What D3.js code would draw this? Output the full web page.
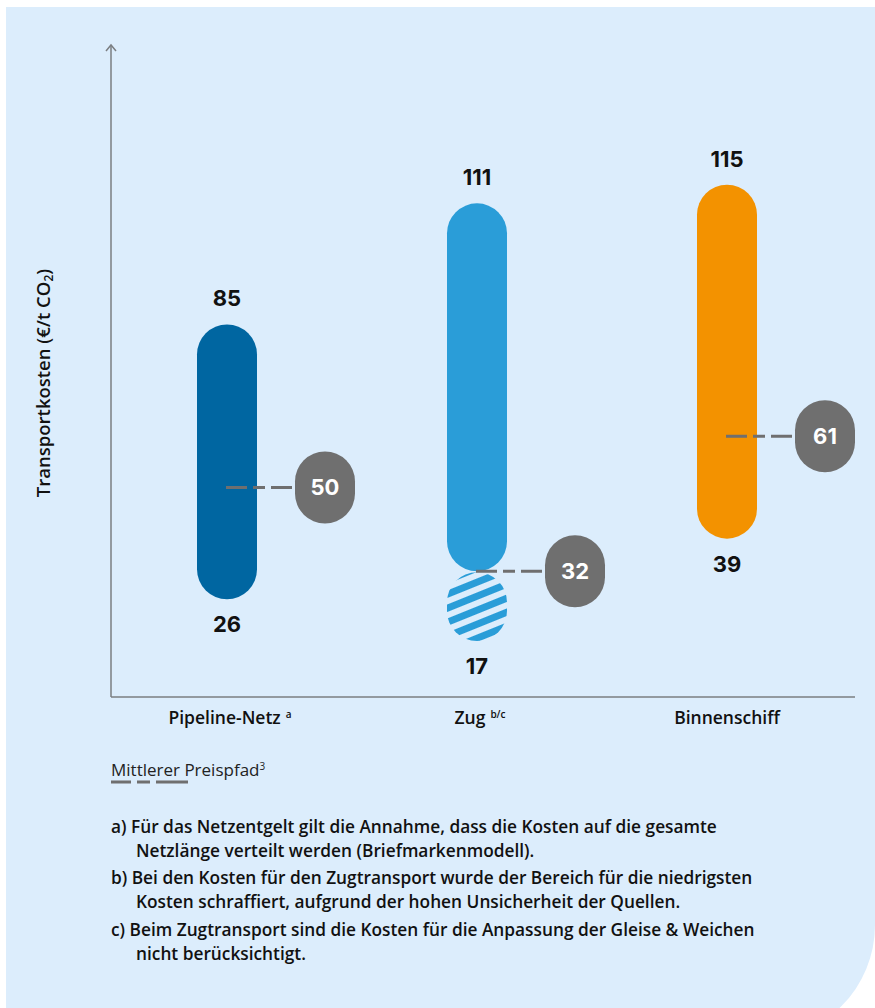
<!DOCTYPE html>
<html>
<head>
<meta charset="utf-8">
<script src="https://cdn.jsdelivr.net/npm/d3@7"></script>
<style>
  html, body { margin: 0; padding: 0; background: #ffffff; }
  svg { display: block; }
</style>
</head>
<body>
<svg id="chart" width="875" height="1008"></svg>
<script>
// ---- data ----
const categories = ["Pipeline-Netz", "Zug", "Binnenschiff"];
const categoryNotes = ["a", "b/c", ""];
const lowValues = [26, 32, 39];
const highValues = [85, 111, 115];
const hatchedLowValues = [null, 17, null];
const medianValues = [50, 32, 61];
const barColors = ["#0066a1", "#2a9dd8", "#f39200"];
const yAxisTitle = "Transportkosten (€/t CO";
const legendLabel = "Mittlerer Preispfad";
const footnotes = [
  ["a)", "Für das Netzentgelt gilt die Annahme, dass die Kosten auf die gesamte", "Netzlänge verteilt werden (Briefmarkenmodell)."],
  ["b)", "Bei den Kosten für den Zugtransport wurde der Bereich für die niedrigsten", "Kosten schraffiert, aufgrund der hohen Unsicherheit der Quellen."],
  ["c)", "Beim Zugtransport sind die Kosten für die Anpassung der Gleise & Weichen", "nicht berücksichtigt."]
];

// ---- layout ----
const svg = d3.select("#chart");
const bg = "#dcedfc";
const grey = "#6f6f6f";
const axisGrey = "#7b7e82";
const numFont = "Inter, 'Open Sans', sans-serif";
const txtFont = "'Open Sans', Roboto, sans-serif";

// panel with rounded bottom-right corner
svg.append("path")
  .attr("d", "M6,7 H875 V925 A115,115 0 0 1 760,1040 H6 Z")
  .attr("fill", bg);

const defs = svg.append("defs");
const pat = defs.append("pattern")
  .attr("id", "hatch")
  .attr("patternUnits", "userSpaceOnUse")
  .attr("width", 13).attr("height", 13)
  .attr("patternTransform", "rotate(-22)");
pat.append("rect").attr("x", 0).attr("y", 0).attr("width", 13).attr("height", 13).attr("fill", bg);
pat.append("rect").attr("x", 0).attr("y", 0).attr("width", 13).attr("height", 7).attr("fill", barColors[1]);

const axisX = 111, axisBottom = 697, axisTop = 45;
const y = d3.scaleLinear().domain([5, 145]).range([axisBottom, axisTop]);
const x = d3.scaleBand().domain(categories).range([102, 852]).paddingInner(0).paddingOuter(0);
const barW = 60;
const cx = c => x(c) + x.bandwidth() / 2;

// axes
svg.append("line").attr("x1", axisX).attr("x2", axisX).attr("y1", y(5)).attr("y2", y(145))
  .attr("stroke", axisGrey).attr("stroke-width", 1.5);
svg.append("path").attr("d", `M${axisX - 5},${axisTop + 6} L${axisX},${axisTop} L${axisX + 5},${axisTop + 6}`)
  .attr("fill", "none").attr("stroke", axisGrey).attr("stroke-width", 1.5);
svg.append("line").attr("x1", axisX).attr("x2", 855).attr("y1", y(5)).attr("y2", y(5))
  .attr("stroke", axisGrey).attr("stroke-width", 1.5);

// y title
const yt = svg.append("text")
  .attr("transform", `translate(50,${383}) rotate(-90)`)
  .attr("text-anchor", "middle")
  .attr("font-family", txtFont).attr("font-weight", 600).attr("font-size", 18.5).attr("fill", "#111");
yt.append("tspan").text(yAxisTitle);
yt.append("tspan").attr("font-size", 12).attr("dy", 3).text("2");
yt.append("tspan").attr("dy", -3).text(")");

// bars
categories.forEach((c, i) => {
  const g = svg.append("g");
  if (hatchedLowValues[i] != null) {
    g.append("rect")
      .attr("x", cx(c) - barW / 2).attr("width", barW)
      .attr("y", y(lowValues[i]) + 1).attr("height", y(hatchedLowValues[i]) - y(lowValues[i]) - 1)
      .attr("rx", barW / 2).attr("ry", barW / 2)
      .attr("fill", "url(#hatch)");
  }
  g.append("rect")
    .attr("x", cx(c) - barW / 2).attr("width", barW)
    .attr("y", y(highValues[i])).attr("height", y(lowValues[i]) - y(highValues[i]))
    .attr("rx", barW / 2).attr("ry", barW / 2)
    .attr("fill", barColors[i]);

  // top label
  g.append("text").attr("x", cx(c)).attr("y", y(highValues[i]) - 18)
    .attr("text-anchor", "middle").attr("font-family", numFont).attr("font-weight", 700)
    .attr("font-size", 22).attr("fill", "#111").text(highValues[i]);
  // bottom label
  const bottomVal = hatchedLowValues[i] != null ? hatchedLowValues[i] : lowValues[i];
  g.append("text").attr("x", cx(c)).attr("y", y(bottomVal) + 33)
    .attr("text-anchor", "middle").attr("font-family", numFont).attr("font-weight", 700)
    .attr("font-size", 22).attr("fill", "#111").text(bottomVal);

  // median dashed line + bubble
  const my = y(medianValues[i]);
  const bx = cx(c) + 68;
  g.append("line").attr("x1", cx(c) - 1).attr("x2", bx).attr("y1", my).attr("y2", my)
    .attr("stroke", grey).attr("stroke-width", 3).attr("stroke-dasharray", "21 6 12 6");
  g.append("rect").attr("x", bx).attr("y", my - 36).attr("width", 60).attr("height", 72)
    .attr("rx", 30).attr("ry", 30).attr("fill", grey);
  g.append("text").attr("x", bx + 30).attr("y", my + 8)
    .attr("text-anchor", "middle").attr("font-family", numFont).attr("font-weight", 700)
    .attr("font-size", 22).attr("fill", "#fff").text(medianValues[i]);

  // category label
  const lt = svg.append("text").attr("x", cx(c) + (categoryNotes[i] ? 3 : 0)).attr("y", 724)
    .attr("text-anchor", "middle").attr("font-family", txtFont).attr("font-weight", 600)
    .attr("font-size", 17.5).attr("fill", "#111");
  lt.append("tspan").text(c);
  if (categoryNotes[i]) {
    lt.append("tspan").attr("font-size", 10).attr("dx", 5).attr("dy", -6).text(categoryNotes[i]);
  }
});

// legend
const lg = svg.append("text").attr("x", axisX).attr("y", 776)
  .attr("font-family", txtFont).attr("font-weight", 400).attr("font-size", 17).attr("fill", "#222");
lg.append("tspan").text(legendLabel);
lg.append("tspan").attr("font-size", 10).attr("dy", -6).text("3");
svg.append("line").attr("x1", axisX).attr("x2", 188).attr("y1", 782).attr("y2", 782)
  .attr("stroke", grey).attr("stroke-width", 3).attr("stroke-dasharray", "20 6 13 6 32");

// footnotes
const baselines = [[833, 857], [884, 908], [936, 960]];
footnotes.forEach((f, i) => {
  svg.append("text").attr("x", axisX).attr("y", baselines[i][0])
    .attr("font-family", txtFont).attr("font-weight", 600).attr("font-size", 17.3).attr("fill", "#111")
    .text(f[0] + " " + f[1]);
  svg.append("text").attr("x", 136).attr("y", baselines[i][1])
    .attr("font-family", txtFont).attr("font-weight", 600).attr("font-size", 17.3).attr("fill", "#111")
    .text(f[2]);
});
</script>
</body>
</html>
